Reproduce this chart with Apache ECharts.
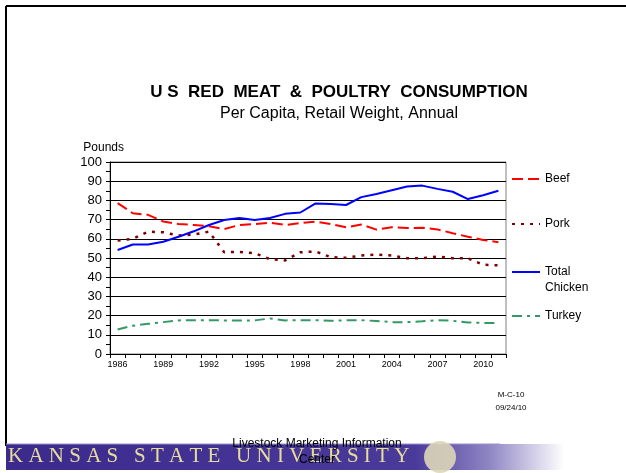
<!DOCTYPE html>
<html lang="en">
<head>
    <meta charset="UTF-8">
    <title>US Red Meat & Poultry Consumption</title>
    <script src="https://cdn.jsdelivr.net/npm/echarts@6/dist/echarts.min.js"></script>
    <style>
        html, body { margin: 0; padding: 0; background: #fff; }
        #chart { width: 626px; height: 473px; }
    </style>
</head>
<body>
<div id="chart"></div>
<script>
    'use strict';
    // per capita, retail weight, pounds
    const years = ['1986', '1987', '1988', '1989', '1990', '1991', '1992', '1993', '1994', '1995', '1996', '1997', '1998',
        '1999', '2000', '2001', '2002', '2003', '2004', '2005', '2006', '2007', '2008', '2009', '2010', '2011'];
    const beef = [78.6, 73.3, 72.5, 69.0, 67.7, 67.2, 66.5, 65.1, 67.2, 67.7, 68.4, 67.2, 68.2,
        68.9, 67.7, 66.0, 67.4, 64.8, 66.0, 65.6, 65.8, 64.9, 62.9, 61.1, 59.4, 58.2];
    const pork = [59.1, 60.0, 63.7, 63.4, 61.7, 62.2, 63.7, 53.0, 53.2, 52.5, 49.4, 48.7, 53.0,
        53.4, 50.4, 50.1, 51.3, 51.8, 51.3, 49.9, 49.9, 50.8, 49.9, 49.9, 46.5, 46.2];
    const chicken = [54.2, 57.0, 57.0, 58.5, 61.1, 63.9, 67.2, 69.8, 70.8, 69.8, 70.8, 73.0, 73.7,
        78.4, 78.1, 77.6, 81.7, 83.3, 85.3, 87.2, 87.7, 86.0, 84.5, 80.7, 82.7, 85.0];
    const turkey = [12.8, 14.7, 15.7, 16.6, 17.5, 17.6, 17.6, 17.5, 17.5, 17.5, 18.5, 17.5, 17.6,
        17.6, 17.3, 17.6, 17.6, 17.2, 16.6, 16.6, 17.0, 17.6, 17.3, 16.4, 16.2, 16.2];

    const font = 'Liberation Sans, Arial, sans-serif';

    function legendAt(name, top, extra) {
        return Object.assign({
            data: [name],
            orient: 'vertical',
            left: 511,
            top: top,
            padding: 0,
            itemWidth: 28,
            itemHeight: 14,
            itemGap: 0,
            itemStyle: {opacity: 0},
            selectedMode: false,
            textStyle: {fontFamily: font, fontSize: 12, color: '#000'}
        }, extra || {});
    }

    let chart = echarts.init(document.getElementById('chart'));
    let option = {
        animation: false,
        backgroundColor: '#fff',
        title: {
            text: 'U S  RED  MEAT  &  POULTRY  CONSUMPTION',
            subtext: 'Per Capita, Retail Weight, Annual',
            left: 334,
            textAlign: 'center',
            top: 79,
            itemGap: 5,
            textStyle: {fontFamily: font, fontSize: 17, fontWeight: 'bold', color: '#000'},
            subtextStyle: {fontFamily: font, fontSize: 16, color: '#000'}
        },
        legend: [
            legendAt('Beef', 173),
            legendAt('Pork', 218),
            legendAt('Total Chicken', 248, {
                formatter: ' \nTotal\nChicken',
                textStyle: {fontFamily: font, fontSize: 12, color: '#000', lineHeight: 16}
            }),
            legendAt('Turkey', 310)
        ],
        grid: {
            left: 110, right: 120, top: 162, bottom: 119,
            show: true, borderColor: '#808080', borderWidth: 1
        },
        xAxis: {
            type: 'category',
            data: years,
            boundaryGap: true,
            axisLine: {lineStyle: {color: '#000', width: 1}},
            axisTick: {show: true, interval: 0, length: 4, lineStyle: {color: '#000'}},
            axisLabel: {interval: 2, fontFamily: font, fontSize: 9, color: '#000', margin: 6},
            splitLine: {show: false}
        },
        yAxis: {
            type: 'value',
            min: 0, max: 100, interval: 10,
            name: 'Pounds',
            nameGap: 8,
            nameTextStyle: {fontFamily: font, fontSize: 12, color: '#000', align: 'right', padding: [0, -14, 0, 0]},
            axisLine: {show: true, lineStyle: {color: '#000', width: 1}},
            axisTick: {show: true, length: 4, lineStyle: {color: '#000'}},
            minorTick: {show: true, splitNumber: 2, length: 4, lineStyle: {color: '#000'}},
            axisLabel: {fontFamily: font, fontSize: 13, color: '#000', margin: 8},
            splitLine: {show: true, lineStyle: {color: '#000', width: 1}}
        },
        series: [
            {name: 'Beef', type: 'line', data: beef, symbol: 'none',
                lineStyle: {color: '#ff0000', width: 2, type: [11, 5]}, itemStyle: {color: '#ff0000'}},
            {name: 'Pork', type: 'line', data: pork, symbol: 'none',
                lineStyle: {color: '#800000', width: 2.5, type: [3, 6]}, itemStyle: {color: '#800000'}},
            {name: 'Total Chicken', type: 'line', data: chicken, symbol: 'none',
                lineStyle: {color: '#0000ff', width: 2}, itemStyle: {color: '#0000ff'}},
            {name: 'Turkey', type: 'line', data: turkey, symbol: 'none',
                lineStyle: {color: '#339966', width: 2, type: [10, 5, 3, 5]}, itemStyle: {color: '#339966'}}
        ],
        graphic: [
            // page frame
            {type: 'line', shape: {x1: 6, y1: 6, x2: 626, y2: 6}, style: {stroke: '#000', lineWidth: 2}},
            {type: 'line', shape: {x1: 6, y1: 6, x2: 6, y2: 446}, style: {stroke: '#000', lineWidth: 2}},
            // footnote
            {type: 'text', x: 511, y: 391, style: {text: 'M-C-10', font: '8px ' + font, fill: '#000', align: 'center'}},
            {type: 'text', x: 511, y: 404, style: {text: '09/24/10', font: '8px ' + font, fill: '#000', align: 'center'}},
            // KSU banner
            {type: 'rect', shape: {x: 6, y: 444, width: 620, height: 26}, silent: true,
                style: {fill: new echarts.graphic.LinearGradient(0, 0, 1, 0, [
                    {offset: 0, color: '#3b2a8c'},
                    {offset: 0.66, color: '#4a3a9a'},
                    {offset: 0.78, color: '#8f86c4'},
                    {offset: 0.9, color: '#ffffff'}
                ])}},
            {type: 'line', shape: {x1: 6, y1: 444, x2: 500, y2: 444}, style: {stroke: '#9a92cc', lineWidth: 1}},
            {type: 'circle', shape: {cx: 440, cy: 457, r: 16}, silent: true,
                style: {fill: '#ddd6b8', opacity: 0.9}},
            {type: 'text', x: 8, y: 446, silent: true,
                style: {text: 'K A N S A S   S T A T E   U N I V E R S I T Y', font: '21px Liberation Serif, serif', fill: '#e6dc9c'}},
            {type: 'text', x: 317, y: 436, silent: true,
                style: {text: 'Livestock Marketing Information\nCenter', font: '12px ' + font, fill: '#000',
                    align: 'center', lineHeight: 16}}
        ]
    };
    chart.setOption(option);
</script>
</body>
</html>
